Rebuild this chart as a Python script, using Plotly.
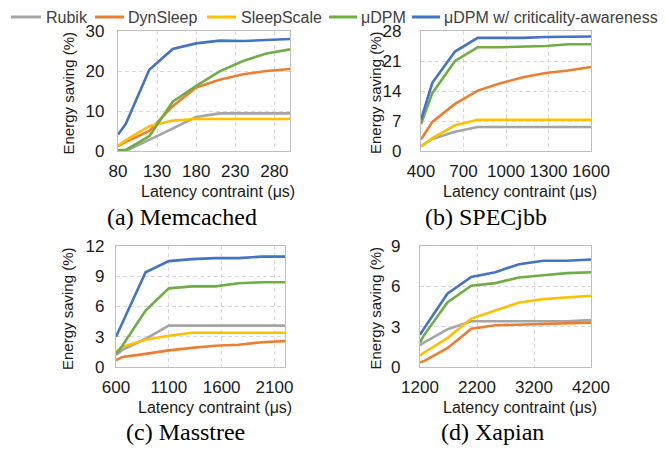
import plotly.graph_objects as go

W, H = 666, 452
OFF = 8  # page body margin offsets the figure by 8px right and down

series_names = ["Rubik", "DynSleep", "SleepScale", "μDPM", "μDPM w/ criticality-awareness"]
series_colors = ["#a5a5a5", "#ed7d31", "#ffc000", "#70ad47", "#4472c4"]

# (a) Memcached
mem_x = [80, 90, 120, 150, 180, 210, 240, 270, 300]
mem_rubik = [0.0, 0.0, 2.8, 5.7, 8.5, 9.4, 9.4, 9.4, 9.4]
mem_dynsleep = [1.2, 2.3, 5.0, 11.2, 15.9, 17.8, 19.2, 20.0, 20.5]
mem_sleepscale = [1.3, 2.7, 6.2, 7.6, 8.0, 8.0, 8.0, 8.0, 8.0]
mem_udpm = [0.2, 0.3, 3.7, 12.3, 16.3, 19.9, 22.5, 24.4, 25.4]
mem_crit = [4.1, 6.8, 20.3, 25.5, 26.9, 27.6, 27.5, 27.8, 28.0]

# (b) SPECjbb
spec_x = [400, 480, 640, 800, 960, 1120, 1280, 1440, 1600]
spec_rubik = [1.1, 2.8, 4.5, 5.6, 5.6, 5.6, 5.6, 5.6, 5.6]
spec_dynsleep = [2.7, 6.8, 11.0, 14.1, 15.8, 17.2, 18.2, 18.8, 19.6]
spec_sleepscale = [1.1, 3.0, 6.0, 7.3, 7.3, 7.3, 7.3, 7.3, 7.3]
spec_udpm = [6.3, 13.5, 21.0, 24.2, 24.2, 24.4, 24.5, 24.9, 24.9]
spec_crit = [7.3, 15.9, 23.2, 26.4, 26.4, 26.4, 26.6, 26.7, 26.7]

# (c) Masstree
mass_x = [600, 660, 880, 1100, 1320, 1540, 1760, 1980, 2200]
mass_rubik = [1.2, 1.7, 2.8, 4.1, 4.1, 4.1, 4.1, 4.1, 4.1]
mass_dynsleep = [0.66, 1.0, 1.3, 1.65, 1.9, 2.1, 2.2, 2.45, 2.57]
mass_sleepscale = [1.5, 2.0, 2.7, 3.1, 3.4, 3.4, 3.4, 3.4, 3.4]
mass_udpm = [1.3, 2.1, 5.6, 7.8, 8.0, 8.0, 8.3, 8.4, 8.4]
mass_crit = [3.0, 4.4, 9.4, 10.5, 10.7, 10.8, 10.8, 10.95, 10.95]

# (d) Xapian
xap_x = [1200, 1260, 1680, 2100, 2520, 2940, 3360, 3780, 4200]
xap_rubik = [1.6, 1.8, 2.8, 3.4, 3.4, 3.4, 3.4, 3.4, 3.5]
xap_dynsleep = [0.35, 0.42, 1.4, 2.85, 3.1, 3.15, 3.15, 3.2, 3.3]
xap_sleepscale = [0.84, 1.04, 2.15, 3.6, 4.2, 4.8, 5.05, 5.2, 5.3]
xap_udpm = [1.8, 2.3, 4.8, 6.04, 6.24, 6.66, 6.83, 6.98, 7.05]
xap_crit = [2.4, 2.8, 5.45, 6.7, 7.05, 7.65, 7.9, 7.9, 8.0]

captions = ["(a) Memcached", "(b) SPECjbb", "(c) Masstree", "(d) Xapian"]
x_title = "Latency contraint (μs)"
y_title = "Energy saving (%)"


def px(X):
    return (X - OFF) / W


def py(Y):
    return 1 - (Y - OFF) / H


panels = [
    dict(x=mem_x, ys=[mem_rubik, mem_dynsleep, mem_sleepscale, mem_udpm, mem_crit],
         px=(118, 290), py=(31, 151), xr=[80, 300], xd=50, yr=[0, 30], yd=10,
         ystand=4, ytx=67.5, cap=(182, 217)),
    dict(x=spec_x, ys=[spec_rubik, spec_dynsleep, spec_sleepscale, spec_udpm, spec_crit],
         px=(421, 591), py=(31, 151), xr=[400, 1600], xd=300, yr=[0, 28], yd=7,
         ystand=10, ytx=375, cap=(486, 217)),
    dict(x=mass_x, ys=[mass_rubik, mass_dynsleep, mass_sleepscale, mass_udpm, mass_crit],
         px=(116, 285), py=(246, 367), xr=[600, 2200], xd=500, yr=[0, 12], yd=3,
         ystand=2, ytx=67.5, cap=(185, 432)),
    dict(x=xap_x, ys=[xap_rubik, xap_dynsleep, xap_sleepscale, xap_udpm, xap_crit],
         px=(420, 591), py=(246, 367), xr=[1200, 4200], xd=1000, yr=[0, 9], yd=3,
         ystand=10, ytx=375, cap=(492, 432)),
]

legend_line_x = [(11, 41), (95, 124), (207, 236), (329, 357), (412, 440)]
legend_text_x = [45, 127, 240, 360, 443]

fig = go.Figure()
annotations = []
shapes = []
FONT = "Liberation Sans, Arial, sans-serif"
SERIF = "Liberation Serif, Times New Roman, serif"
tick_color = "#1a1a1a"
grid_color = "#d9d9d9"
border_color = "#bfbfbf"

for i, p in enumerate(panels):
    n = "" if i == 0 else str(i + 1)
    xa, ya = "x" + n, "y" + n
    for k, (name, color) in enumerate(zip(series_names, series_colors)):
        fig.add_trace(go.Scatter(
            x=p["x"], y=p["ys"][k], mode="lines", name=name,
            line=dict(color=color, width=2.6), xaxis=xa, yaxis=ya,
            legendgroup=name, showlegend=False, hoverinfo="skip"))
    xdom = [px(p["px"][0]), px(p["px"][1])]
    ydom = [py(p["py"][1]), py(p["py"][0])]
    common = dict(showline=True, mirror=True, linecolor=border_color, linewidth=1.3,
                  showgrid=True, gridcolor=grid_color, griddash="4px,3px", gridwidth=1,
                  zeroline=False, ticks="", ticklen=0, fixedrange=True, automargin=False,
                  tickfont=dict(size=17, color=tick_color, family=FONT))
    fig.layout["xaxis" + n] = dict(domain=xdom, range=p["xr"], tick0=p["xr"][0], dtick=p["xd"],
                                   anchor=ya, ticklabelstandoff=4, **common)
    fig.layout["yaxis" + n] = dict(domain=ydom, range=p["yr"], tick0=0, dtick=p["yd"],
                                   anchor=xa, ticklabelstandoff=p["ystand"] + 5, **common)
    annotations.append(dict(text=x_title, x=px((p["px"][0] + p["px"][1]) / 2 + 14),
                            y=py(p["py"][1] + 40), xref="paper", yref="paper",
                            showarrow=False, xanchor="center", yanchor="middle",
                            font=dict(size=16, color=tick_color, family=FONT)))
    annotations.append(dict(text=y_title, x=px(p["ytx"]),
                            y=py((p["py"][0] + p["py"][1]) / 2 + 2), xref="paper", yref="paper",
                            showarrow=False, xanchor="center", yanchor="middle", textangle=-90,
                            borderpad=0,
                            font=dict(size=15, color=tick_color, family=FONT)))
    annotations.append(dict(text=captions[i], x=px(p["cap"][0]), y=py(p["cap"][1]),
                            xref="paper", yref="paper", showarrow=False,
                            xanchor="center", yanchor="middle",
                            font=dict(size=24, color="#000000", family=SERIF)))

# legend: text boxes hang from the top edge of the figure; sample lines at their centre
legend_center = OFF + 9
for k, (name, color) in enumerate(zip(series_names, series_colors)):
    x0, x1 = legend_line_x[k]
    shapes.append(dict(type="line", xref="paper", yref="paper",
                       x0=px(x0), x1=px(x1), y0=py(legend_center), y1=py(legend_center),
                       line=dict(color=color, width=3)))
    annotations.append(dict(text=name, x=px(legend_text_x[k]), y=1.0,
                            xref="paper", yref="paper", showarrow=False,
                            xanchor="left", yanchor="top", borderpad=0,
                            font=dict(size=16, color="#404040", family=FONT)))

fig.update_layout(
    width=W, height=H, margin=dict(l=0, r=0, t=0, b=0),
    plot_bgcolor="white", paper_bgcolor="white",
    font=dict(family=FONT, color=tick_color),
    annotations=annotations, shapes=shapes, showlegend=False,
)

fig.write_html("out.html")
